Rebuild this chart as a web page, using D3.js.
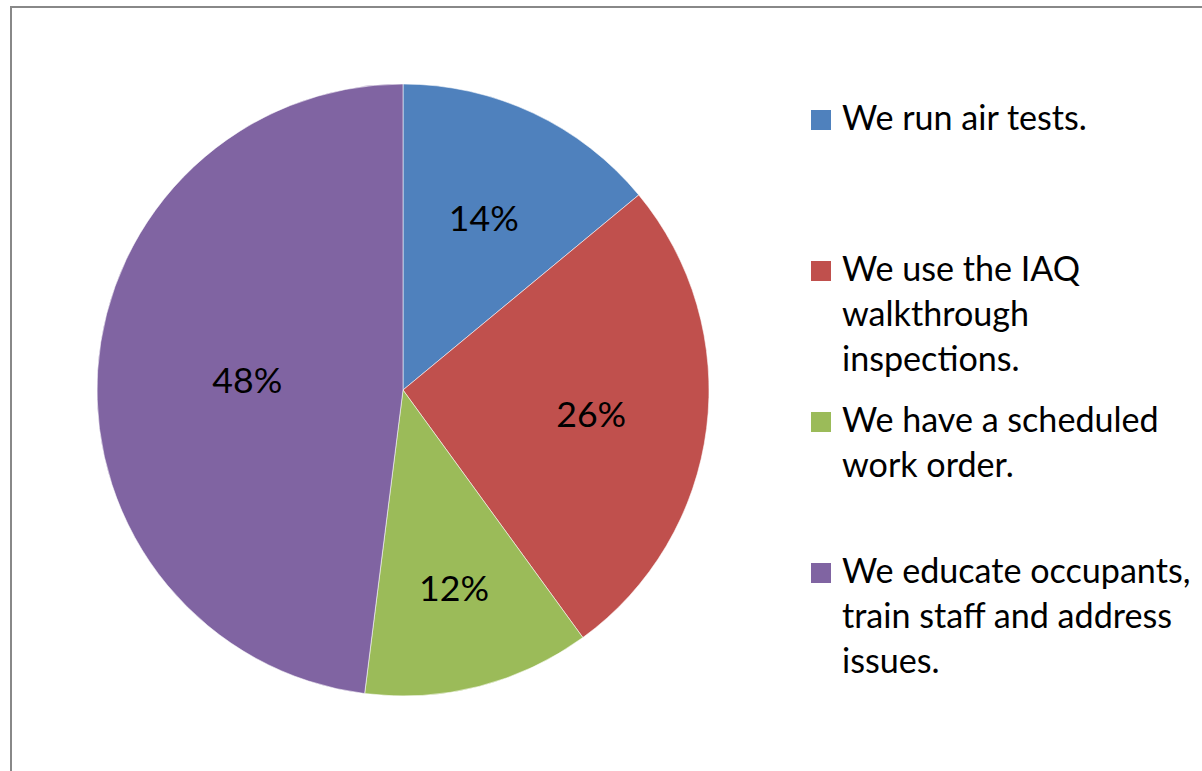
<!DOCTYPE html>
<html>
<head>
<meta charset="utf-8">
<script src="https://cdn.jsdelivr.net/npm/d3@7"></script>
<style>
  html, body { margin: 0; padding: 0; background: #fff; }
  svg { display: block; }
  text { font-family: Lato, "Open Sans", sans-serif; fill: #000; }
</style>
</head>
<body>
<svg id="chart" width="1202" height="771"></svg>
<script>
// ---- data ----
const categories = [
  "We run air tests.",
  "We use the IAQ walkthrough inspections.",
  "We have a scheduled work order.",
  "We educate occupants, train staff and address issues."
];
const legendLines = [
  ["We run air tests."],
  ["We use the IAQ", "walkthrough", "inspections."],
  ["We have a scheduled", "work order."],
  ["We educate occupants,", "train staff and address", "issues."]
];
const values = [14, 26, 12, 48];
const labels = ["14%", "26%", "12%", "48%"];
const colors = ["#4F81BD", "#C0504D", "#9BBB59", "#8064A2"];

// ---- layout ----
const W = 1202, H = 771;
const cx = 403, cy = 390, R = 306;
const labelRadiusFrac = [0.62, 0.62, 0.67, 0.51];
const legendX = 811, legendTextX = 842, legendTop = 130, legendSlot = 151, legendLineH = 45, sw = 20;

const svg = d3.select("#chart");

// frame
svg.append("rect")
  .attr("x", 11).attr("y", 7)
  .attr("width", W + 20).attr("height", H + 20)
  .attr("fill", "#fff")
  .attr("stroke", "#888").attr("stroke-width", 2);

// font fitting helper (Calibri-like metrics via Lato)
function fitSize(str, targetWidth) {
  const t = svg.append("text").attr("font-size", 100).text(str);
  const w = t.node().getComputedTextLength();
  t.remove();
  return 100 * targetWidth / w;
}
const legendFont = fitSize("We run air tests.", 245);
const labelFont = fitSize("14%", 70);

const pie = d3.pie().sort(null).value(d => d)
  .startAngle(0).endAngle(2 * Math.PI);
const arcs = pie(values);
const arc = d3.arc().innerRadius(0).outerRadius(R);

const g = svg.append("g").attr("transform", `translate(${cx},${cy})`);

g.selectAll("path.slice")
  .data(arcs)
  .join("path")
  .attr("class", "slice")
  .attr("d", arc)
  .attr("fill", (d, i) => colors[i])
  .attr("stroke", "rgba(255,255,255,0.55)")
  .attr("stroke-width", 1);

g.selectAll("text.lbl")
  .data(arcs)
  .join("text")
  .attr("class", "lbl")
  .attr("transform", (d, i) => {
    const r = R * labelRadiusFrac[i];
    const a = (d.startAngle + d.endAngle) / 2;
    return `translate(${r * Math.sin(a)},${-r * Math.cos(a)})`;
  })
  .attr("text-anchor", "middle")
  .attr("dy", "0.36em")
  .attr("font-size", labelFont)
  .text((d, i) => labels[i]);

// legend
const leg = svg.append("g");
legendLines.forEach((lines, i) => {
  const base = legendTop + i * legendSlot;
  leg.append("rect")
    .attr("x", legendX).attr("y", base - sw)
    .attr("width", sw).attr("height", sw)
    .attr("fill", colors[i]);
  const t = leg.append("text")
    .attr("x", legendTextX).attr("y", base)
    .attr("font-size", legendFont);
  lines.forEach((ln, j) => {
    t.append("tspan").attr("x", legendTextX).attr("y", base + j * legendLineH).text(ln);
  });
});
</script>
</body>
</html>
